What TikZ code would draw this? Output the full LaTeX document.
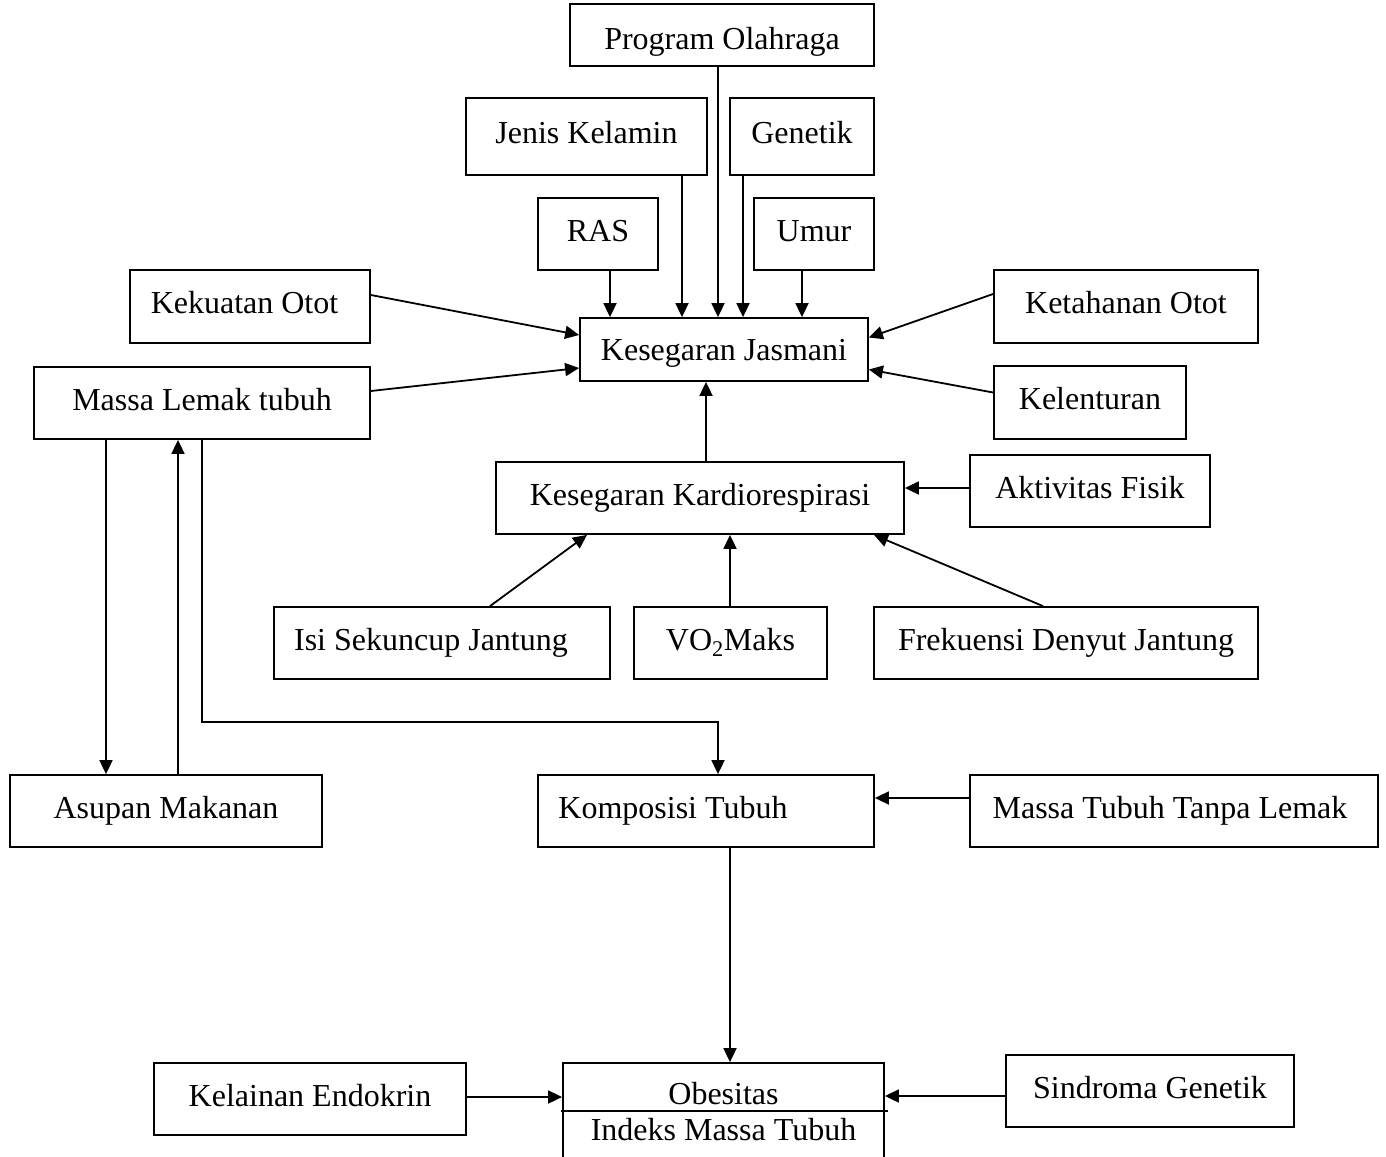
\documentclass[tikz,border=0pt]{standalone}
\usepackage{fontspec}
\setmainfont{Liberation Serif}
\usetikzlibrary{arrows.meta}
\begin{document}
\begin{tikzpicture}[x=1pt,y=-1pt,
  box/.style={draw,line width=1.8pt,inner sep=0pt,align=center,
    font=\fontsize{32}{38}\selectfont,text height=22pt,text depth=8pt},
  low/.style={text depth=0pt},
  arr/.style={line width=1.8pt,-{Triangle[length=14pt,width=13pt]}},
  ln/.style={line width=1.8pt},
  lbl/.style={inner sep=0pt,font=\fontsize{32}{38}\selectfont,text height=22pt,text depth=6pt}]
\useasboundingbox[fill=white] (0,0) rectangle (1386,1156);
% nodes
\node[box,text height=30pt,text depth=0pt,minimum width=304pt,minimum height=62pt] (prog) at (722,35) {Program Olahraga};
\node[box,minimum width=241pt,minimum height=77pt] (jenis) at (586.5,136.5) {Jenis Kelamin};
\node[box,minimum width=144pt,minimum height=77pt] (genetik) at (802,136.5) {Genetik};
\node[box,minimum width=120pt,minimum height=72pt] (ras) at (598,234) {RAS};
\node[box,minimum width=120pt,minimum height=72pt] (umur) at (814,234) {Umur};
\node[box,minimum width=240pt,minimum height=73pt] (kekuatan) at (250,306.5) {\hspace*{-11pt}Kekuatan Otot};
\node[box,low,minimum width=288pt,minimum height=63pt] (kj) at (724,349.5) {Kesegaran Jasmani};
\node[box,minimum width=264pt,minimum height=73pt] (ketahanan) at (1126,306.5) {Ketahanan Otot};
\node[box,minimum width=336pt,minimum height=72pt] (mlemak) at (202,403) {Massa Lemak tubuh};
\node[box,minimum width=192pt,minimum height=73pt] (kelenturan) at (1090,402.5) {Kelenturan};
\node[box,minimum width=408pt,minimum height=72pt] (kardio) at (700,498) {Kesegaran Kardiorespirasi};
\node[box,minimum width=240pt,minimum height=72pt] (aktivitas) at (1090,491) {Aktivitas Fisik};
\node[box,minimum width=336pt,minimum height=72pt] (isi) at (442,643) {\hspace*{-22pt}Isi Sekuncup Jantung};
\node[box,minimum width=193pt,minimum height=72pt] (vo2) at (730.5,643) {VO\textsubscript{2}Maks};
\node[box,minimum width=384pt,minimum height=72pt] (frek) at (1066,643) {Frekuensi Denyut Jantung};
\node[box,minimum width=312pt,minimum height=72pt] (asupan) at (166,811) {Asupan Makanan};
\node[box,minimum width=336pt,minimum height=72pt] (komposisi) at (706,811) {\hspace*{-66pt}Komposisi Tubuh};
\node[box,minimum width=408pt,minimum height=72pt] (mttl) at (1174,811) {\hspace*{-8pt}Massa Tubuh Tanpa Lemak};
\node[box,minimum width=312pt,minimum height=72pt] (endokrin) at (310,1099) {Kelainan Endokrin};
\node[box,minimum width=288pt,minimum height=72pt] (sindroma) at (1150,1091) {Sindroma Genetik};
\node[draw,line width=1.8pt,inner sep=0pt,minimum width=321pt,minimum height=100pt] (obes) at (723.5,1113) {};
\node[lbl] (obestxt) at (723.5,1096) {Obesitas};
\node[lbl] (imt) at (723.5,1132) {Indeks Massa Tubuh};
\draw[ln] ([xshift=-1pt,yshift=2pt]obes.west) -- ([xshift=3pt,yshift=2pt]obes.east);
% arrows into Kesegaran Jasmani
\draw[arr] ([xshift=-4pt]prog.south) coordinate (a1) -- (a1 |- kj.north);
\draw[arr] ([xshift=95.5pt]jenis.south) coordinate (a2) -- (a2 |- kj.north);
\draw[arr] ([xshift=-59pt]genetik.south) coordinate (a3) -- (a3 |- kj.north);
\draw[arr] ([xshift=12pt]ras.south) coordinate (a4) -- (a4 |- kj.north);
\draw[arr] ([xshift=-12pt]umur.south) coordinate (a5) -- (a5 |- kj.north);
\draw[arr] ([yshift=11.5pt]kekuatan.east) -- ([yshift=14.5pt]kj.west);
\draw[arr] ([yshift=12pt]mlemak.east) -- ([yshift=-18.5pt]kj.west);
\draw[arr] ([yshift=12.5pt]ketahanan.west) -- ([yshift=12pt]kj.east);
\draw[arr] ([yshift=10pt]kelenturan.west) -- ([yshift=-20pt]kj.east);
\draw[arr] ([xshift=6pt]kardio.north) coordinate (a6) -- (a6 |- kj.south);
% into Kardiorespirasi
\draw[arr] ([yshift=3pt]aktivitas.west) coordinate (a7) -- (a7 -| kardio.east);
\draw[arr] ([xshift=48pt]isi.north) -- ([xshift=-113pt]kardio.south);
\draw[arr] ([xshift=-0.5pt]vo2.north) coordinate (a14) -- (a14 |- kardio.south);
\draw[arr] ([xshift=-23pt]frek.north) -- ([xshift=174pt]kardio.south);
% Massa Lemak / Asupan / Komposisi
\draw[arr] ([xshift=-96pt]mlemak.south) coordinate (a8) -- (a8 |- asupan.north);
\draw[arr] ([xshift=12pt]asupan.north) coordinate (a9) -- (a9 |- mlemak.south);
\draw[arr] (mlemak.south) -- ++(0,282) -| ([xshift=12pt]komposisi.north);
\draw[arr] ([yshift=13pt]mttl.west) coordinate (a10) -- (a10 -| komposisi.east);
% into Obesitas
\draw[arr] ([xshift=24pt]komposisi.south) coordinate (a11) -- (a11 |- obes.north);
\draw[arr] ([yshift=2pt]endokrin.east) coordinate (a12) -- (a12 -| obes.west);
\draw[arr] ([yshift=-5pt]sindroma.west) coordinate (a13) -- (a13 -| obes.east);
\end{tikzpicture}
\end{document}
